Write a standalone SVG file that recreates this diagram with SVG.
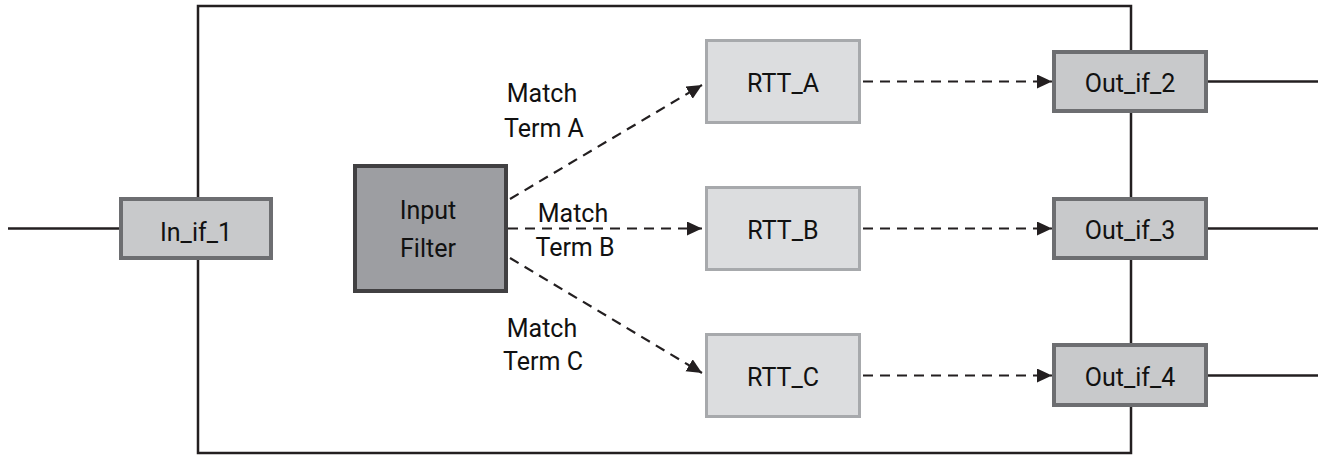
<svg xmlns="http://www.w3.org/2000/svg" width="1327" height="455" viewBox="0 0 1327 455">
  <defs>
    <marker id="arr" markerUnits="userSpaceOnUse" markerWidth="16" markerHeight="15" refX="15" refY="7" orient="auto">
      <path d="M0,0 L15,7 L0,14 z" fill="#231f20"/>
    </marker>
    <style>
      .frame { fill: none; stroke: #231f20; stroke-width: 2.5; }
      .solid { fill: none; stroke: #231f20; stroke-width: 2.5; }
      .dash { fill: none; stroke: #231f20; stroke-width: 2.2; stroke-dasharray: 10 7; marker-end: url(#arr); }
      .port { fill: #c8c9cb; stroke: #6d6e71; stroke-width: 4; }
      .rtt { fill: #dcdddf; stroke: #a7a9ac; stroke-width: 3; }
      .filter { fill: #9d9ea2; stroke: #414042; stroke-width: 4; }
      text { font-family: Roboto, "Liberation Sans", sans-serif; font-size: 25px; fill: #111; text-anchor: middle; }
    </style>
  </defs>

  <g id="frame">
    <rect class="frame" x="198" y="6" width="933" height="447"/>
  </g>

  <g id="connectors">
    <line class="solid" x1="8" y1="228.5" x2="121" y2="228.5"/>
    <line class="solid" x1="1206" y1="81.5" x2="1318" y2="81.5"/>
    <line class="solid" x1="1206" y1="228.5" x2="1318" y2="228.5"/>
    <line class="solid" x1="1206" y1="375.5" x2="1318" y2="375.5"/>
    <path class="dash" d="M510,199 L702,85"/>
    <path class="dash" d="M508,228.5 L702,228.5"/>
    <path class="dash" d="M510,258 L702,373"/>
    <path class="dash" d="M863,81.5 L1052,81.5"/>
    <path class="dash" d="M863,228.5 L1052,228.5"/>
    <path class="dash" d="M863,375.5 L1052,375.5"/>
  </g>

  <g id="label-a">
    <text x="542" y="102">Match</text>
    <text x="544" y="137">Term A</text>
  </g>
  <g id="label-b">
    <text x="573" y="222">Match</text>
    <text x="575" y="256">Term B</text>
  </g>
  <g id="label-c">
    <text x="542" y="337">Match</text>
    <text x="543" y="370">Term C</text>
  </g>

  <g id="in_if_1">
    <rect class="port" x="121" y="199" width="150" height="59"/>
    <text x="196" y="241">In_if_1</text>
  </g>

  <g id="input_filter">
    <rect class="filter" x="355" y="166" width="151" height="125"/>
    <text x="428" y="219">Input</text>
    <text x="428" y="257">Filter</text>
  </g>

  <g id="rtt_a">
    <rect class="rtt" x="706.5" y="40.5" width="153" height="82"/>
    <text x="783" y="92">RTT_A</text>
  </g>
  <g id="rtt_b">
    <rect class="rtt" x="706.5" y="187.5" width="153" height="82"/>
    <text x="783" y="239">RTT_B</text>
  </g>
  <g id="rtt_c">
    <rect class="rtt" x="706.5" y="334.5" width="153" height="82"/>
    <text x="783" y="386">RTT_C</text>
  </g>

  <g id="out_if_2">
    <rect class="port" x="1054" y="52" width="152" height="59"/>
    <text x="1130" y="92">Out_if_2</text>
  </g>
  <g id="out_if_3">
    <rect class="port" x="1054" y="199" width="152" height="59"/>
    <text x="1130" y="239">Out_if_3</text>
  </g>
  <g id="out_if_4">
    <rect class="port" x="1054" y="345" width="152" height="60"/>
    <text x="1130" y="386">Out_if_4</text>
  </g>
</svg>
